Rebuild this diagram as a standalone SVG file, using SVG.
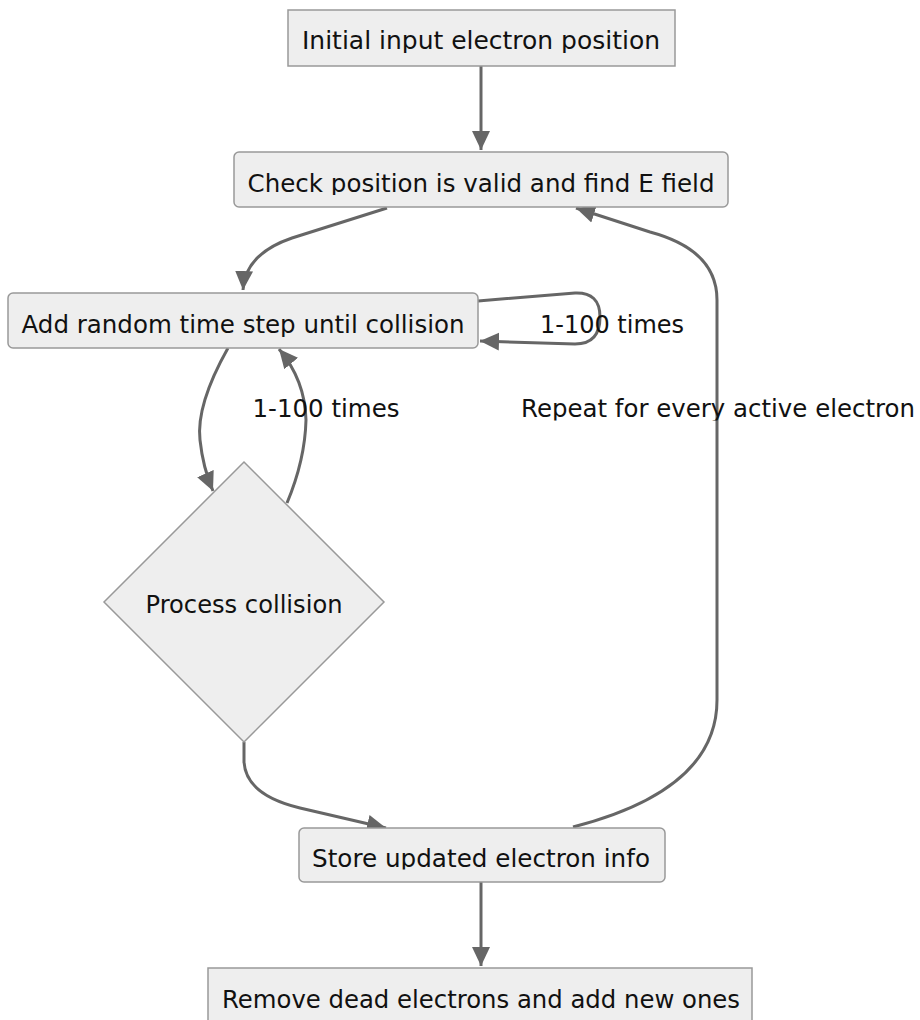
<svg xmlns="http://www.w3.org/2000/svg" width="920" height="1020" viewBox="0 0 920 1020">
<style>
.box{fill:#eeeeee;stroke:#999999;stroke-width:1.5}
.t{font-family:"DejaVu Sans",sans-serif;font-size:25px;fill:#111;text-anchor:middle}
.e{fill:none;stroke:#666666;stroke-width:3}
</style>
<defs>
<marker id="ah" markerUnits="userSpaceOnUse" markerWidth="20" markerHeight="20" viewBox="0 0 20 20" refX="19" refY="10" orient="auto">
<path d="M0,1 L19,10 L0,19 z" fill="#666666"/>
</marker>
<clipPath id="c1"><rect x="0" y="20" width="920" height="33"/></clipPath>
<clipPath id="c2"><rect x="0" y="162" width="920" height="33"/></clipPath>
<clipPath id="c3"><rect x="0" y="303" width="920" height="34"/></clipPath>
<clipPath id="c4"><rect x="0" y="388" width="920" height="32.5"/></clipPath>
<clipPath id="c5"><rect x="0" y="584" width="920" height="33"/></clipPath>
<clipPath id="c6"><rect x="0" y="837" width="920" height="32.5"/></clipPath>
<clipPath id="c7"><rect x="0" y="978" width="920" height="34"/></clipPath>
</defs>
<rect width="920" height="1020" fill="#ffffff"/>
<g id="connectors">
<path class="e" d="M481,66 L481,150" marker-end="url(#ah)"/>
<path class="e" d="M387,208 L292,238 Q245,254 243,290" marker-end="url(#ah)"/>
<path class="e" d="M478,301 L575,293 Q600,292 600,317 Q600,344 575,344 L480,341" marker-end="url(#ah)"/>
<path class="e" d="M228,348 Q196,405 200,440 Q203,468 213,491" marker-end="url(#ah)"/>
<path class="e" d="M287,503 Q305,460 306,420 Q305,380 279,349" marker-end="url(#ah)"/>
<path class="e" d="M244,742 L244,762 Q246,795 300,808 L386,828" marker-end="url(#ah)"/>
<path class="e" d="M573,827 Q717,790 717,700 L717,300 Q717,250 650,232 L576,208" marker-end="url(#ah)"/>
<path class="e" d="M481,882 L481,966" marker-end="url(#ah)"/>
</g>
<g id="labels">
<text class="t" x="612" y="333.3" clip-path="url(#c3)" textLength="144" lengthAdjust="spacingAndGlyphs">1-100 times</text>
<text class="t" x="326" y="417.3" clip-path="url(#c4)" textLength="147" lengthAdjust="spacingAndGlyphs">1-100 times</text>
<text class="t" x="718" y="417.3" clip-path="url(#c4)" textLength="394" lengthAdjust="spacingAndGlyphs">Repeat for every active electron</text>
</g>
<g id="n1">
<rect class="box" x="288" y="10" width="387" height="56"/>
<text class="t" x="481" y="49.3" clip-path="url(#c1)" textLength="358" lengthAdjust="spacingAndGlyphs">Initial input electron position</text>
</g>
<g id="n2">
<rect class="box" x="234" y="152" width="494" height="55" rx="5"/>
<text class="t" x="481" y="191.5" clip-path="url(#c2)" textLength="467" lengthAdjust="spacingAndGlyphs">Check position is valid and find E field</text>
</g>
<g id="n3">
<rect class="box" x="8" y="293" width="470" height="55" rx="5"/>
<text class="t" x="243" y="333.3" clip-path="url(#c3)" textLength="443" lengthAdjust="spacingAndGlyphs">Add random time step until collision</text>
</g>
<g id="n4">
<polygon class="box" points="244,462 384,602 244,742 104,602"/>
<text class="t" x="244" y="613.3" clip-path="url(#c5)" textLength="197" lengthAdjust="spacingAndGlyphs">Process collision</text>
</g>
<g id="n5">
<rect class="box" x="299" y="828" width="366" height="54" rx="5"/>
<text class="t" x="481" y="866.7" clip-path="url(#c6)" textLength="338" lengthAdjust="spacingAndGlyphs">Store updated electron info</text>
</g>
<g id="n6">
<rect class="box" x="208" y="968" width="544" height="60"/>
<text class="t" x="481" y="1008" clip-path="url(#c7)" textLength="518" lengthAdjust="spacingAndGlyphs">Remove dead electrons and add new ones</text>
</g>
</svg>
